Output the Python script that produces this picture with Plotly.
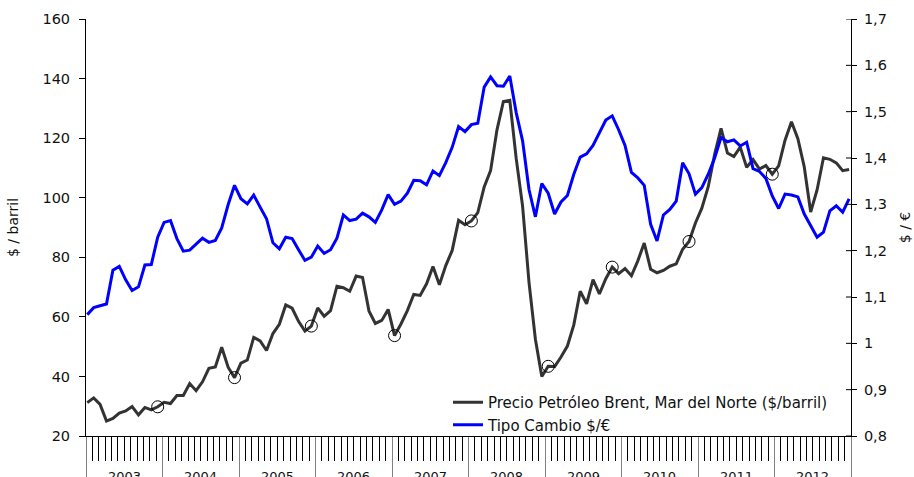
import plotly.graph_objects as go

# Monthly series, Jan 2003 .. Dec 2012
years = [str(y) for y in range(2003, 2013)]
months = [f"{y}-{m:02d}" for y in range(2003, 2013) for m in range(1, 13)]

# Brent crude, North Sea ($/barrel), monthly average
brent = [
    31.2, 32.8, 30.6, 25.0, 25.9, 27.7, 28.4, 29.9, 27.1, 29.6, 28.8, 29.8,   # 2003
    31.3, 30.9, 33.6, 33.6, 37.6, 35.2, 38.2, 42.7, 43.2, 49.8, 43.1, 39.6,   # 2004
    44.5, 45.5, 53.1, 51.9, 48.7, 54.4, 57.5, 64.0, 62.9, 58.5, 55.2, 56.9,   # 2005
    63.0, 60.2, 62.1, 70.3, 69.8, 68.6, 73.7, 73.2, 62.0, 57.8, 58.8, 62.5,   # 2006
    53.7, 57.6, 62.1, 67.5, 67.2, 71.1, 76.9, 70.8, 77.2, 82.3, 92.4, 90.9,   # 2007
    92.2, 95.0, 103.6, 109.1, 122.8, 132.3, 132.7, 113.2, 97.2, 71.6, 52.5, 40.0,  # 2008
    43.4, 43.3, 46.5, 50.2, 57.3, 68.6, 64.4, 72.5, 67.7, 72.8, 76.7, 74.5,   # 2009
    76.2, 73.8, 78.8, 84.8, 76.0, 74.8, 75.6, 77.0, 77.8, 82.7, 85.3, 91.5,   # 2010
    96.5, 103.7, 114.6, 123.3, 115.0, 113.8, 117.0, 110.2, 112.8, 109.6, 110.8, 107.9,  # 2011
    110.7, 119.3, 125.5, 119.8, 110.3, 95.2, 102.6, 113.4, 112.9, 111.7, 109.1, 109.5,  # 2012
]

# US dollars per euro, monthly average
usd_eur = [
    1.062, 1.077, 1.081, 1.085, 1.158, 1.166, 1.137, 1.114, 1.122, 1.169, 1.170, 1.229,  # 2003
    1.261, 1.265, 1.226, 1.199, 1.201, 1.214, 1.227, 1.218, 1.222, 1.249, 1.299, 1.341,  # 2004
    1.312, 1.301, 1.320, 1.294, 1.269, 1.217, 1.204, 1.229, 1.226, 1.202, 1.179, 1.186,  # 2005
    1.210, 1.194, 1.202, 1.227, 1.277, 1.265, 1.268, 1.281, 1.273, 1.261, 1.288, 1.321,  # 2006
    1.300, 1.307, 1.324, 1.352, 1.351, 1.342, 1.372, 1.362, 1.390, 1.423, 1.468, 1.457,  # 2007
    1.472, 1.475, 1.553, 1.575, 1.556, 1.555, 1.577, 1.498, 1.437, 1.332, 1.273, 1.345,  # 2008
    1.324, 1.279, 1.305, 1.319, 1.365, 1.402, 1.409, 1.427, 1.456, 1.482, 1.491, 1.461,  # 2009
    1.427, 1.369, 1.357, 1.341, 1.257, 1.221, 1.277, 1.289, 1.307, 1.390, 1.366, 1.322,  # 2010
    1.336, 1.365, 1.400, 1.444, 1.435, 1.439, 1.426, 1.434, 1.377, 1.371, 1.356, 1.318,  # 2011
    1.291, 1.322, 1.320, 1.316, 1.279, 1.253, 1.229, 1.240, 1.286, 1.297, 1.283, 1.312,  # 2012
]

# Months highlighted with a circle on the Brent line
marked_months = ["2003-12", "2004-12", "2005-12", "2007-01", "2008-01",
                 "2009-01", "2009-11", "2010-11", "2011-12"]

left_ticks = [20, 40, 60, 80, 100, 120, 140, 160]
right_ticks = [0.8, 0.9, 1.0, 1.1, 1.2, 1.3, 1.4, 1.5, 1.6, 1.7]
right_ticktext = ["0,8", "0,9", "1", "1,1", "1,2", "1,3", "1,4", "1,5", "1,6", "1,7"]

FONT = "DejaVu Sans, Verdana, sans-serif"
TXT = "#111111"

idx = list(range(len(months)))
X0, X1 = -0.2, 119.3
MW = (X1 - X0) / len(months)          # width of one month slot on the axis
mark_idx = [months.index(m) for m in marked_months]

fig = go.Figure()
fig.add_trace(go.Scatter(
    x=idx, y=brent, mode="lines", name="Precio Petróleo Brent, Mar del Norte ($/barril)",
    line=dict(color="#333333", width=3), yaxis="y"))
fig.add_trace(go.Scatter(
    x=idx, y=usd_eur, mode="lines", name="Tipo Cambio $/€",
    line=dict(color="#0000ff", width=3), yaxis="y2"))
fig.add_trace(go.Scatter(
    x=mark_idx, y=[brent[i] for i in mark_idx], mode="markers", showlegend=False,
    marker=dict(symbol="circle-open", size=12, color="black", line=dict(width=1)),
    yaxis="y"))

# inner half of the crossing tick marks on the right axis
shapes = [dict(type="line", xref="paper", yref="y2", x0=1 - 5 / 765, x1=1, y0=v, y1=v,
               line=dict(color="black", width=1)) for v in right_ticks]

# year labels under the month ticks
annotations = [dict(x=X0 + (12 * k + 6) * MW, xref="x", y=0, yref="paper",
                    yanchor="top", yshift=-31, text=yr, showarrow=False,
                    font=dict(family=FONT, size=13, color=TXT))
               for k, yr in enumerate(years)]

fig.update_layout(
    width=914, height=477,
    margin=dict(l=86, r=63, t=19, b=41),
    paper_bgcolor="white", plot_bgcolor="white",
    font=dict(family=FONT, size=14, color=TXT),
    showlegend=True,
    legend=dict(x=(448 - 86) / 765, y=-0.012, xanchor="left", yanchor="bottom",
                bgcolor="rgba(0,0,0,0)", font=dict(family=FONT, size=15, color=TXT),
                tracegroupgap=0, itemwidth=30),
    xaxis=dict(range=[X0, X1], showgrid=False, zeroline=False, automargin=False,
               showline=True, linecolor="black", linewidth=1,
               tickmode="array", tickvals=[X0 + 12 * k * MW for k in range(11)],
               ticks="outside", ticklen=41, tickcolor="#808080", tickwidth=1,
               showticklabels=False,
               minor=dict(ticks="outside", ticklen=24, tickcolor="black", tickwidth=1,
                          tick0=X0, dtick=MW, showgrid=False)),
    yaxis=dict(range=[20, 160], tickmode="array", tickvals=left_ticks, automargin=False,
               showgrid=False, zeroline=False, showline=True, linecolor="black",
               linewidth=1, ticks="outside", ticklen=6, tickcolor="black",
               ticklabelstandoff=6,
               tickfont=dict(family=FONT, size=14.5, color=TXT),
               title=dict(text="$ / barril", standoff=20,
                          font=dict(family=FONT, size=14, color=TXT))),
    yaxis2=dict(range=[0.8, 1.7], overlaying="y", side="right", anchor="x",
                automargin=False,
                tickmode="array", tickvals=right_ticks, ticktext=right_ticktext,
                showgrid=False, zeroline=False, showline=True, linecolor="black",
                linewidth=1, ticks="outside", ticklen=5, tickcolor="black",
                ticklabelstandoff=4,
                tickfont=dict(family=FONT, size=14.5, color=TXT),
                title=dict(text="$ / €", standoff=14,
                           font=dict(family=FONT, size=14, color=TXT))),
    shapes=shapes,
    annotations=annotations,
)

fig.write_html("out.html")
